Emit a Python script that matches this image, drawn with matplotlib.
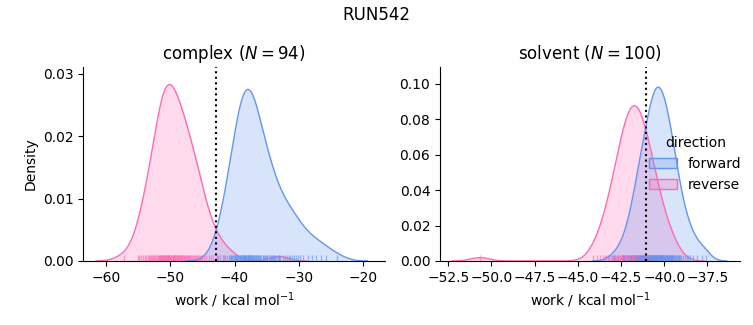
#!/usr/bin/env python
import numpy as np
import matplotlib
matplotlib.use('Agg')
import matplotlib.pyplot as plt
from matplotlib.patches import Patch
from matplotlib.colors import to_rgba

complex_forward = [
    -42.7, -42.2, -41.8, -41.5, -41.2,
    -40.9, -40.75, -40.6, -40.45, -40.3, -40.15, -40.0,
    -39.9, -39.8, -39.7, -39.6, -39.5, -39.4, -39.3, -39.2, -39.1, -39.0,
    -38.9, -38.8, -38.7, -38.6, -38.6, -38.5, -38.45, -38.4, -38.3, -38.3, -38.2,
    -38.1, -38.0,
    -37.9, -37.85, -37.8, -37.7, -37.7, -37.6, -37.5, -37.4, -37.4, -37.3, -37.2,
    -37.1, -37.0,
    -36.9, -36.8, -36.7, -36.6, -36.5, -36.4, -36.3, -36.2, -36.1, -36.0,
    -35.9, -35.6, -35.5, -35.4, -35.25, -35.1, -35.0,
    -34.9, -34.7, -34.5, -34.4, -34.2, -34.05,
    -33.9, -33.7, -33.5, -33.3, -33.1,
    -32.9, -32.4, -32.1, -31.9, -31.6, -31.4, -31.1, -30.8, -30.5, -30.2,
    -29.8, -29.3, -28.6, -27.9, -27.4, -26.6, -25.8, -24.1,
]
complex_reverse = [
    -57.2, -55.0, -54.8, -54.5, -54.2,
    -53.9, -53.7, -53.5, -53.3, -53.1,
    -52.9, -52.75, -52.6, -52.45, -52.3, -52.15, -52.0,
    -51.9, -51.8, -51.7, -51.6, -51.5, -51.45, -51.4, -51.3, -51.2, -51.15, -51.1, -51.0,
    -50.9, -50.8, -50.75, -50.7, -50.6, -50.5, -50.45, -50.4, -50.3, -50.25, -50.2,
    -50.1, -50.0,
    -49.9, -49.8, -49.7, -49.6, -49.5, -49.45, -49.4, -49.3, -49.2, -49.1, -49.0,
    -48.9, -48.8, -48.7, -48.6, -48.5, -48.4, -48.3, -48.2, -48.1, -48.0,
    -47.9, -47.8, -47.7, -47.5, -47.4, -47.3, -47.2, -47.1, -47.0,
    -46.9, -46.7, -46.55, -46.4, -46.25, -46.1, -46.0,
    -45.9, -45.7, -45.5, -45.4, -45.2, -45.0,
    -44.8, -44.4, -44.0, -43.7, -43.3, -42.6, -41.7, -40.6, -33.1,
]
solvent_forward = [
    -42.9, -42.4, -42.3, -42.1,
    -41.95, -41.9, -41.8, -41.7, -41.65, -41.6, -41.55,
    -41.48, -41.45, -41.42, -41.38, -41.35, -41.3, -41.27, -41.23, -41.2, -41.15,
    -41.1, -41.06, -41.02,
    -40.98, -40.95, -40.93, -40.9, -40.87, -40.85, -40.82, -40.79, -40.76, -40.74,
    -40.71, -40.68, -40.65, -40.63, -40.6, -40.58, -40.55, -40.53, -40.51,
    -40.49, -40.47, -40.44, -40.42, -40.39, -40.37, -40.35, -40.32, -40.3, -40.27,
    -40.25, -40.23, -40.2, -40.18, -40.15, -40.13, -40.1, -40.08, -40.06, -40.03, -40.01,
    -39.98, -39.95, -39.92, -39.89, -39.86, -39.83, -39.8, -39.77, -39.74, -39.71,
    -39.68, -39.65, -39.62, -39.59, -39.56, -39.53, -39.51,
    -39.47, -39.42, -39.37, -39.32, -39.27, -39.22, -39.17, -39.12, -39.07, -39.02,
    -38.9, -38.8, -38.7, -38.6, -38.5, -38.35, -38.1, -37.8, -37.6,
]
solvent_reverse = [
    -50.66, -44.1, -43.9, -43.7, -43.55,
    -43.45, -43.35, -43.25, -43.17, -43.1, -43.03,
    -42.98, -42.93, -42.88, -42.84, -42.79, -42.74, -42.7, -42.65, -42.6, -42.56, -42.52,
    -42.49, -42.46, -42.43, -42.4, -42.37, -42.34, -42.31, -42.28, -42.25, -42.22,
    -42.19, -42.16, -42.13, -42.1, -42.07, -42.04, -42.01,
    -41.98, -41.96, -41.93, -41.91, -41.88, -41.86, -41.83, -41.81, -41.78, -41.76,
    -41.73, -41.71, -41.68, -41.66, -41.63, -41.61, -41.58, -41.56, -41.53, -41.51,
    -41.48, -41.45, -41.42, -41.39, -41.36, -41.33, -41.3, -41.27, -41.24, -41.21,
    -41.18, -41.15, -41.12, -41.09, -41.06, -41.03, -41.01,
    -40.97, -40.93, -40.89, -40.85, -40.81, -40.77, -40.73, -40.69, -40.65, -40.61,
    -40.56, -40.52,
    -40.46, -40.39, -40.32, -40.25, -40.18, -40.1, -40.03,
    -39.9, -39.75, -39.62, -39.52, -39.3,
]
complex_dg = -42.9   # dotted line, complex
solvent_dg = -41.05  # dotted line, solvent

phases = ['complex', 'solvent']
directions = ['forward', 'reverse']
colors = {'forward': 'cornflowerblue', 'reverse': 'hotpink'}
samples = {
    ('complex', 'forward'): complex_forward,
    ('complex', 'reverse'): complex_reverse,
    ('solvent', 'forward'): solvent_forward,
    ('solvent', 'reverse'): solvent_reverse,
}
n_total = sum(len(v) for v in samples.values())


def kde(x, n_norm, cut=3, gridsize=200):
    # gaussian kde, scott bandwidth, normalised by the overall sample count
    x = np.asarray(x, dtype=float)
    bw = x.std(ddof=1) * len(x) ** (-1 / 5)
    grid = np.linspace(x.min() - cut * bw, x.max() + cut * bw, gridsize)
    z = (grid[:, None] - x[None, :]) / bw
    dens = np.exp(-0.5 * z ** 2).sum(axis=1) / (n_norm * bw * np.sqrt(2 * np.pi))
    return grid, dens


fig = plt.figure(figsize=(7.53, 3.25), dpi=100)
ax_c = fig.add_axes([83.3 / 753, 64 / 325, (385 - 83.3) / 753, (261 - 67) / 325])
ax_s = fig.add_axes([440 / 753, 64 / 325, (740 - 440) / 753, (261 - 67) / 325])
axes = {'complex': ax_c, 'solvent': ax_s}

for phase in phases:
    ax = axes[phase]
    for d in directions[::-1]:
        grid, dens = kde(samples[(phase, d)], n_total)
        ax.fill_between(grid, 0, dens, color=colors[d], alpha=0.25, lw=0)
    for d in directions[::-1]:
        grid, dens = kde(samples[(phase, d)], n_total)
        ax.plot(grid, dens, color=colors[d], lw=1)
        ax.vlines(samples[(phase, d)], 0, 0.03, transform=ax.get_xaxis_transform(),
                  colors=colors[d], lw=1, alpha=0.6)
    n = len(samples[(phase, 'forward')])
    ax.set_title(f'{phase} ($N = {n}$)', fontsize=12)
    ax.set_xlabel('work / kcal mol$^{-1}$')
    ax.spines['top'].set_visible(False)
    ax.spines['right'].set_visible(False)

ax_c.axvline(complex_dg, color='k', ls=':', lw=1.5)
ax_s.axvline(solvent_dg, color='k', ls=':', lw=1.5)

ax_c.set_xlim(-63.48, -16.63)
ax_c.set_ylim(0, 0.0311)
ax_c.set_yticks([0, 0.01, 0.02, 0.03])
ax_c.set_ylabel('Density')
ax_s.set_xlim(-52.98, -35.61)
ax_s.set_ylim(0, 0.1096)
ax_s.set_xticks(np.arange(-52.5, -36, 2.5))

handles = [Patch(facecolor=to_rgba(colors[d], 0.25), edgecolor=colors[d], lw=1)
           for d in directions]
ax_s.legend(handles, directions, title='direction', frameon=False,
            loc='center right', bbox_to_anchor=(1.047, 0.5))

fig.suptitle('RUN542', fontsize=12)
fig.savefig('out.png', dpi=100)
